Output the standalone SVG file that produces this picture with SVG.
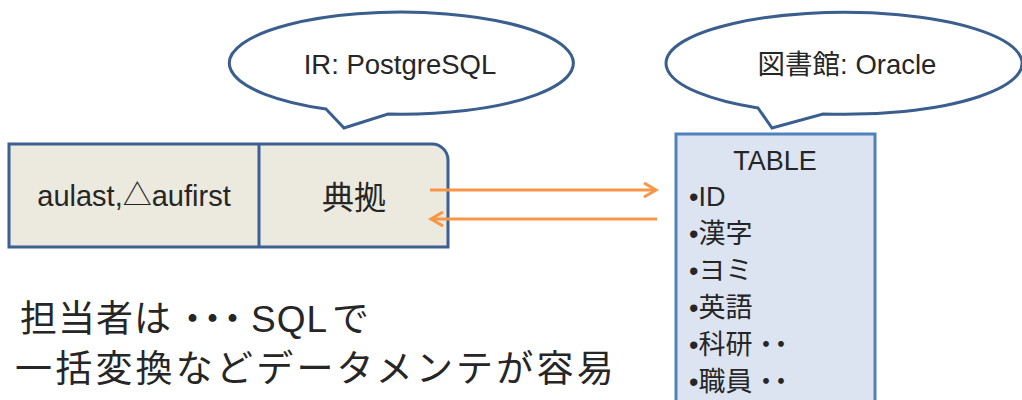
<svg xmlns="http://www.w3.org/2000/svg" width="1022" height="400" viewBox="0 0 1022 400">
<style>
.t{font-family:"Liberation Sans","Noto Sans CJK JP",sans-serif;fill:#262626}
.bub{fill:#ffffff;stroke:#3A5F8F;stroke-width:3;stroke-linejoin:miter}
.arr{stroke:#F79646;stroke-width:3;fill:none}
.dd{letter-spacing:-12px}
</style>
<defs>
<marker id="chev" viewBox="0 0 16 16" refX="13" refY="8" markerWidth="16" markerHeight="16" markerUnits="userSpaceOnUse" orient="auto">
<path d="M1,1 L13,8 L1,15" fill="none" stroke="#F79646" stroke-width="3"/>
</marker>
</defs>
<rect width="1022" height="400" fill="#ffffff"/>
<g id="bubble-ir">
<path class="bub" d="M326,109 L344,128 L388,114 A172,51 0 1 0 326,109 Z"/>
<text class="t" x="400" y="74" font-size="27.5" text-anchor="middle">IR: PostgreSQL</text>
</g>
<g id="bubble-lib">
<path class="bub" d="M758,108 L772,128 L823,114 A178,51 0 1 0 758,108 Z"/>
<text class="t" x="847" y="74" font-size="27.5" text-anchor="middle">図書館: Oracle</text>
</g>
<g id="record">
<path d="M9,144 H432 A16,16 0 0 1 448,160 V247 H9 Z" fill="#ECE9DF" stroke="#3C6092" stroke-width="3"/>
<line x1="259" y1="144" x2="259" y2="247" stroke="#3C6092" stroke-width="3"/>
<text class="t" x="134" y="206" font-size="29" text-anchor="middle">aulast,△aufirst</text>
<text class="t" x="354" y="209" font-size="32" text-anchor="middle">典拠</text>
</g>
<g id="table">
<rect x="676" y="134" width="199" height="290" fill="#DCE4F2" stroke="#4F81BD" stroke-width="3"/>
<text class="t" x="775" y="170" font-size="27" text-anchor="middle">TABLE</text>
<text class="t" font-size="27">
<tspan x="689" y="206">•ID</tspan>
<tspan x="689" y="243">•漢字</tspan>
<tspan x="689" y="280">•ヨミ</tspan>
<tspan x="689" y="317">•英語</tspan>
<tspan x="689" y="354">•科研<tspan class="dd">・・</tspan></tspan>
<tspan x="689" y="391">•職員<tspan class="dd">・・</tspan></tspan>
</text>
</g>
<g id="connectors">
<line class="arr" x1="430" y1="190" x2="656" y2="190" marker-end="url(#chev)"/>
<line class="arr" x1="657" y1="219" x2="431" y2="219" marker-end="url(#chev)"/>
</g>
<g id="note">
<text class="t" x="20" y="332" font-size="37" letter-spacing="1">担当者は<tspan letter-spacing="-17" dx="2">・・・</tspan><tspan dx="17" letter-spacing="1">SQL</tspan><tspan dx="4">で</tspan></text>
<text class="t" x="15" y="382" font-size="37" letter-spacing="3.2">一括変換などデータメンテが容易</text>
</g>
</svg>
